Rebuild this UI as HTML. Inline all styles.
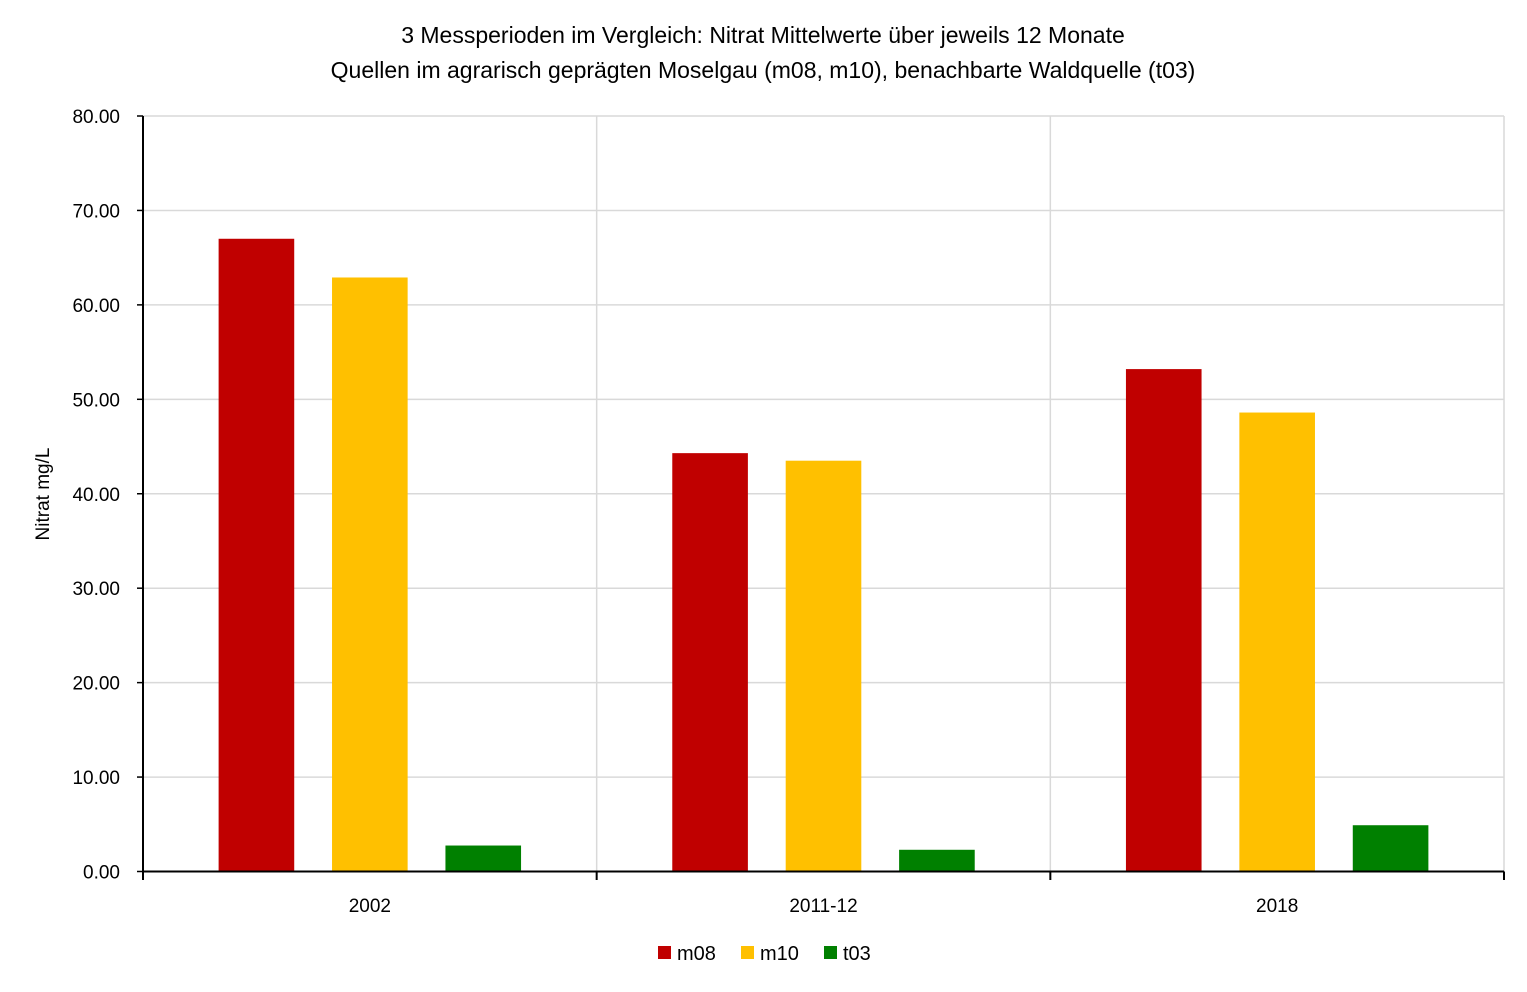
<!DOCTYPE html>
<html><head><meta charset="utf-8"><style>
body{margin:0;background:#fff;}
svg text{font-family:"Liberation Sans",sans-serif;fill:#000;}
</style></head><body>
<svg id="chart" width="1527" height="987" xmlns="http://www.w3.org/2000/svg">
<text x="763" y="43" font-size="23" text-anchor="middle">3 Messperioden im Vergleich: Nitrat Mittelwerte über jeweils 12 Monate</text>
<text x="763" y="78" font-size="23" text-anchor="middle">Quellen im agrarisch geprägten Moselgau (m08, m10), benachbarte Waldquelle (t03)</text>
<text transform="translate(49,494) rotate(-90)" font-size="19" text-anchor="middle">Nitrat mg/L</text>
<g id="grid"></g><g id="bars"></g><g id="axes"></g>
<g id="legend"></g>
</svg>
<script>
const categories=["2002","2011-12","2018"];
const seriesNames=["m08","m10","t03"];
const m08=[67.0,44.3,53.2];
const m10=[62.9,43.5,48.6];
const t03=[2.75,2.3,4.9];
const yTicks=[0,10,20,30,40,50,60,70,80];
const colors=["#c00000","#ffc000","#008000"];
const series=[m08,m10,t03];
const NS="http://www.w3.org/2000/svg";
const X0=143,X1=1504,Y0=871.5,Y1=116,YMAX=80;
const cw=(X1-X0)/categories.length;
function y(v){return Y0-(v/YMAX)*(Y0-Y1);}
function mk(tag,attrs,parent){const e=document.createElementNS(NS,tag);for(const k in attrs)e.setAttribute(k,attrs[k]);parent.appendChild(e);return e;}
const grid=document.getElementById('grid'),bars=document.getElementById('bars'),axes=document.getElementById('axes'),leg=document.getElementById('legend');
yTicks.forEach(t=>{
  if(t>0){const l=mk('line',{x1:X0,x2:X1,y1:y(t),y2:y(t),stroke:'#d9d9d9','stroke-width':1.5},grid);
  
  }
  const tx=mk('text',{x:120,y:y(t)+7,'font-size':19,'text-anchor':'end'},axes);tx.textContent=t.toFixed(2);
  
  
});
for(let i=1;i<=categories.length;i++){
  const gx=X0+i*cw;
  const l=mk('line',{x1:gx,x2:gx,y1:Y1,y2:Y0,stroke:'#d9d9d9','stroke-width':1.5},grid);
  
  
}
categories.forEach((c,i)=>{
  const bw=cw/6,gap=cw/12;
  series.forEach((s,j)=>{
    const bx=X0+i*cw+cw/6+j*(bw+gap);
    const r=mk('rect',{x:bx,y:y(s[i]),width:bw,height:Y0-y(s[i]),fill:colors[j]},bars);
    
    
  });
  const tx=mk('text',{x:X0+i*cw+cw/2,y:912,'font-size':19,'text-anchor':'middle'},axes);tx.textContent=c;
  
  
});
const ya=mk('line',{x1:X0,x2:X0,y1:Y1,y2:880,stroke:'#000','stroke-width':2},axes);


const xa=mk('line',{x1:X0,x2:X1,y1:Y0,y2:Y0,stroke:'#000','stroke-width':2},axes);


for(let i=0;i<=categories.length;i++){const gx=X0+i*cw;mk('line',{x1:gx,x2:gx,y1:Y0,y2:880,stroke:'#000','stroke-width':2},axes);}
for(let i=0;i<=8;i++){mk('line',{x1:X0-6,x2:X0,y1:y(i*10),y2:y(i*10),stroke:'#000','stroke-width':1.5},axes);}
const lx=[658,741,824];
seriesNames.forEach((n,j)=>{
  const g=mk('g',{},leg);
  
  
  mk('rect',{x:lx[j],y:946,width:13,height:13,fill:colors[j]},g);
  const t=mk('text',{x:lx[j]+19,y:960,'font-size':20},g);t.textContent=n;
});
</script>
</body></html>
